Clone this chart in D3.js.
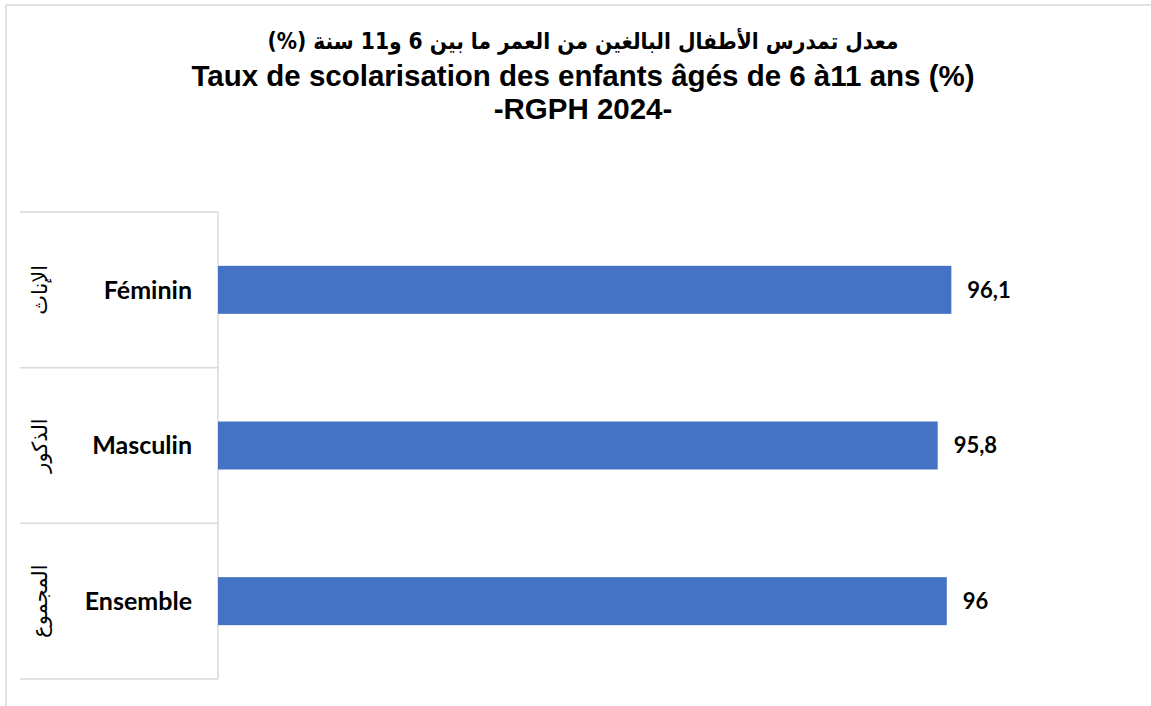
<!DOCTYPE html>
<html>
<head>
<meta charset="utf-8">
<script src="https://cdn.jsdelivr.net/npm/d3@7"></script>
<style>
  body { margin: 0; background: #fff; }
  svg { display: block; }
</style>
</head>
<body>
<div id="chart"></div>
<script>
var categories = ["Féminin", "Masculin", "Ensemble"];
var arabicLabels = ["الإناث", "الذكور", "المجموع"];
var values = [96.1, 95.8, 96];
var valueLabels = ["96,1", "95,8", "96"];
var titleLines = [
  "معدل تمدرس الأطفال البالغين من العمر ما بين 6 و11 سنة (%)",
  "Taux de scolarisation des enfants âgés de 6 à11 ans (%)",
  "-RGPH 2024-"
];

var svg = d3.select("#chart")
            .append("svg")
            .attr("width", 1151)
            .attr("height", 706);

// outer frame (top + left only visible)
svg.append("line").attr("x1", 6).attr("y1", 5).attr("x2", 1151).attr("y2", 5)
   .attr("stroke", "#d9d9d9").attr("stroke-width", 1.5);
svg.append("line").attr("x1", 6).attr("y1", 5).attr("x2", 6).attr("y2", 706)
   .attr("stroke", "#d9d9d9").attr("stroke-width", 1.5);

// titles
var titleY = [49, 86, 119],
    titleSize = ["22.5px", "29.5px", "29.5px"],
    titleFont = ["'DejaVu Sans Condensed', 'DejaVu Sans', sans-serif",
                 "'Liberation Sans', Arial, sans-serif",
                 "'Liberation Sans', Arial, sans-serif"];
svg.selectAll("text.title")
   .data(titleLines)
   .enter()
   .append("text")
   .attr("class", "title")
   .attr("x", 583)
   .attr("y", function(d, i) { return titleY[i]; })
   .attr("text-anchor", "middle")
   .attr("direction", function(d, i) { return i == 0 ? "rtl" : "ltr"; })
   .style("font-family", function(d, i) { return titleFont[i]; })
   .style("font-weight", "bold")
   .style("font-size", function(d, i) { return titleSize[i]; })
   .text(function(d) { return d; });

var margin = {top: 212, left: 218, bottom: 27},
    plotW = 1129 - margin.left,
    plotH = 706 - margin.top - margin.bottom;

var x = d3.scaleLinear().domain([80, 100]).range([0, plotW]);
var y = d3.scaleBand().domain(categories).range([0, plotH]).paddingInner(0).paddingOuter(0);
var barH = 48;

var g = svg.append("g").attr("transform", "translate(" + margin.left + "," + margin.top + ")");

// category table lines
var tableLeft = 20 - margin.left;
var edges = categories.map(function(c) { return y(c); }).concat([plotH]);
g.selectAll("line.hline")
 .data(edges)
 .enter()
 .append("line")
 .attr("class", "hline")
 .attr("x1", tableLeft).attr("x2", 0)
 .attr("y1", function(d) { return d; }).attr("y2", function(d) { return d; })
 .attr("stroke", "#d9d9d9").attr("stroke-width", 1.5);
g.append("line")
 .attr("x1", 0).attr("x2", 0).attr("y1", 0).attr("y2", plotH)
 .attr("stroke", "#d9d9d9").attr("stroke-width", 1.5);

// bars
g.selectAll("rect.bar")
 .data(values)
 .enter()
 .append("rect")
 .attr("class", "bar")
 .attr("x", 0)
 .attr("y", function(d, i) { return y(categories[i]) + y.bandwidth() / 2 - barH / 2; })
 .attr("width", function(d) { return x(d); })
 .attr("height", barH)
 .attr("fill", "#4472c4");

// value labels
g.selectAll("text.val")
 .data(values)
 .enter()
 .append("text")
 .attr("class", "val")
 .attr("x", function(d) { return x(d) + 16; })
 .attr("y", function(d, i) { return y(categories[i]) + y.bandwidth() / 2; })
 .attr("dy", "0.35em")
 .style("font-family", "Lato, 'Open Sans', sans-serif")
 .style("font-weight", "bold")
 .style("font-size", "22px")
 .style("fill", "#000")
 .text(function(d, i) { return valueLabels[i]; });

// french category labels
g.selectAll("text.cat")
 .data(categories)
 .enter()
 .append("text")
 .attr("class", "cat")
 .attr("x", -26)
 .attr("y", function(d) { return y(d) + y.bandwidth() / 2; })
 .attr("dy", "0.35em")
 .attr("text-anchor", "end")
 .style("font-family", "Lato, 'Open Sans', sans-serif")
 .style("font-weight", "bold")
 .style("font-size", "25px")
 .text(function(d) { return d; });

// arabic category labels (rotated)
g.selectAll("text.ar")
 .data(arabicLabels)
 .enter()
 .append("text")
 .attr("class", "ar")
 .attr("transform", function(d, i) {
   return "translate(" + (40 - margin.left) + "," + (y(categories[i]) + y.bandwidth() / 2) + ") rotate(-90)";
 })
 .attr("text-anchor", "middle")
 .attr("dy", "0.35em")
 .style("font-family", "'DejaVu Sans', sans-serif")
 .style("font-size", "21px")
 .text(function(d) { return d; });
</script>
</body>
</html>
